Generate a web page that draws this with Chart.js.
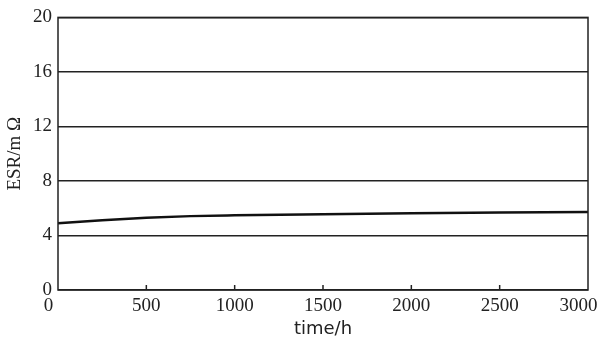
<!DOCTYPE html>
<html>
<head>
<meta charset="utf-8">
<script src="https://cdn.jsdelivr.net/npm/chart.js@4"></script>
<style>
    html, body { margin: 0; padding: 0; background: #fff; }
    #wrap { width: 600px; height: 341px; }
</style>
</head>
<body>
<div id="wrap"><canvas id="esrChart"></canvas></div>
<script>
// ESR over time data
const timeHours = [0, 250, 500, 750, 1000, 1500, 2000, 2500, 3000];
const esrValues = [4.9, 5.12, 5.3, 5.42, 5.48, 5.56, 5.63, 5.68, 5.73];
const xTicks = [0, 500, 1000, 1500, 2000, 2500, 3000];
const yTicks = [0, 4, 8, 12, 16, 20];

const serif = '"Liberation Serif", "DejaVu Serif", serif';
const sans = '"DejaVu Sans", "Liberation Sans", sans-serif';

// Box around the plot + small inward ticks on the x axis
const frame = {
    id: 'frame',
    afterDraw(chart) {
        const { ctx, chartArea: a, scales } = chart;
        ctx.save();
        ctx.strokeStyle = '#222';
        ctx.lineWidth = 1.5;
        ctx.strokeRect(a.left, a.top, a.right - a.left, a.bottom - a.top);
        ctx.beginPath();
        xTicks.slice(1, -1).forEach(v => {
            const x = scales.x.getPixelForValue(v);
            ctx.moveTo(x, a.bottom);
            ctx.lineTo(x, a.bottom - 5);
        });
        ctx.stroke();
        ctx.restore();
    }
};

new Chart(document.getElementById('esrChart'), {
    type: 'line',
    data: {
        datasets: [{
            data: timeHours.map((t, i) => ({ x: t, y: esrValues[i] })),
            borderColor: '#111',
            borderWidth: 2.5,
            pointRadius: 0,
            cubicInterpolationMode: 'monotone',
            fill: false
        }]
    },
    options: {
        responsive: true,
        maintainAspectRatio: false,
        animation: false,
        layout: { padding: { top: 15, right: 12, left: 0, bottom: 0 } },
        plugins: { legend: { display: false }, tooltip: { enabled: false } },
        scales: {
            x: {
                type: 'linear',
                min: 0,
                max: 3000,
                afterBuildTicks: s => { s.ticks = xTicks.map(v => ({ value: v })); },
                afterFit: s => {
                    s.height = 51;
                    s.paddingLeft = 0;
                    s.paddingRight = 0;
                },
                grid: { display: false, drawTicks: false },
                border: { display: false },
                ticks: {
                    color: '#222',
                    padding: 5,
                    maxRotation: 0,
                    font: { family: serif, size: 19 },
                    // end labels sit a little to the left in the original
                    callback: v => (v === 0 || v === 3000) ? String(v) + '\u2003' : String(v)
                },
                title: {
                    display: true,
                    text: 'time/h',
                    color: '#222',
                    padding: { top: 0, bottom: 1 },
                    font: { family: sans, size: 18 }
                }
            },
            y: {
                min: 0,
                max: 20,
                afterBuildTicks: s => { s.ticks = yTicks.map(v => ({ value: v })); },
                afterFit: s => { s.width = 58; },
                grid: {
                    color: '#222',
                    lineWidth: 1.5,
                    drawTicks: false
                },
                border: { display: false },
                ticks: {
                    color: '#222',
                    padding: 6,
                    font: { family: serif, size: 19 },
                    callback: v => String(v)
                },
                title: {
                    display: true,
                    text: 'ESR/m \u03A9',
                    color: '#222',
                    padding: { bottom: 2 },
                    font: { family: serif, size: 19 }
                }
            }
        }
    },
    plugins: [frame]
});
</script>
</body>
</html>
